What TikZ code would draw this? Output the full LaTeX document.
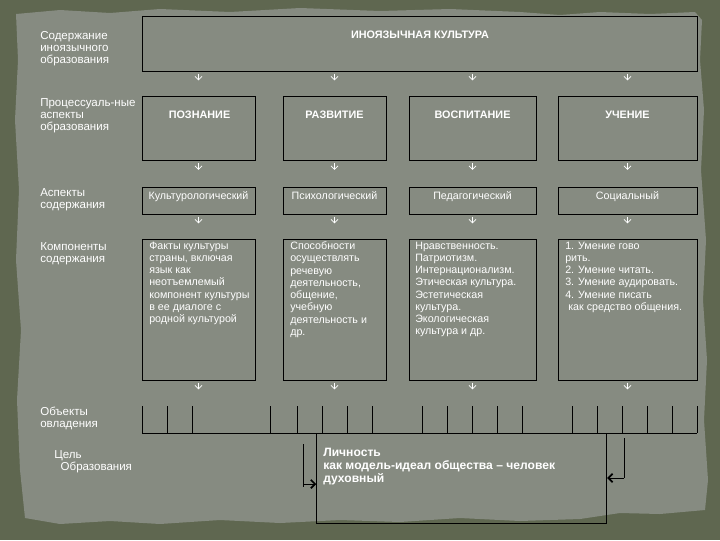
\documentclass[tikz,border=0pt]{standalone}
\usepackage{fontspec}
\setmainfont{Liberation Sans}
\usetikzlibrary{arrows.meta}
\usetikzlibrary{calc}
\usetikzlibrary{positioning}
\definecolor{paper}{RGB}{134,139,129}
\definecolor{edge}{RGB}{95,103,80}

\begin{document}
\begin{tikzpicture}[x=0.025cm, y=-0.025cm,
		box/.style={draw=black, line width=0.6pt, inner sep=0pt},
		head/.style={text=white, font=\bfseries\fontsize{7.7}{9}\selectfont},
		txt/.style={text=white, font=\fontsize{7.6}{8.7}\selectfont, align=left, inner sep=0pt, anchor=north west},
		side/.style={text=white, font=\fontsize{8.2}{8.7}\selectfont, align=left, inner sep=0pt, anchor=north west},
		flow/.style={white, line width=0.5pt, -{Straight Barb[length=2.5pt, width=5pt]}, shorten <=1.5pt},
		goalarr/.style={black, line width=0.6pt, -{Straight Barb[length=3pt, width=6pt, line width=1.2pt]}}]
		% paper sheet
		\useasboundingbox (0,0) rectangle (720,540);
		\fill[edge] (0,0) rectangle (720,540);
		\fill[paper] (16,14) -- (60,10) -- (110,13) -- (160,9) -- (230,12) -- (300,8) -- (380,11) -- (450,9) -- (520,12)
			-- (560,15) -- (600,12) -- (650,14) -- (695,12) -- (702,20) -- (700,60) -- (704,110) -- (701,170) -- (706,240)
			-- (703,300) -- (707,360) -- (704,420) -- (708,480) -- (705,510) -- (660,514) -- (620,513) -- (580,519)
			-- (520,521) -- (460,518) -- (400,522) -- (340,520) -- (280,523) -- (220,520) -- (160,524) -- (110,521)
			-- (60,524) -- (25,518) -- (20,470) -- (17,400) -- (21,330) -- (16,260) -- (19,190) -- (15,120) -- (18,60) -- cycle;

		% row labels
		\node (l1) at (40,31) [side] {Содержание\\иноязычного\\образования};
		\node (l2) at (40,98) [side] {Процессуаль-ные\\аспекты\\образования};
		\node (l3) at (40,188) [side] {Аспекты\\содержания};
		\node (l4) at (40,242) [side] {Компоненты\\содержания};
		\node (l5) at (40,407) [side] {Объекты\\овладения};
		\node (l6) at (54,450) [side] {Цель\\\ \ Образования};

		% top box
		\node (kult) at (419.5,43.5) [box, minimum width=13.875cm, minimum height=1.375cm] {};
		\node (kultt) at (420,35) [head] {ИНОЯЗЫЧНАЯ КУЛЬТУРА};

		% process aspects
		\node (pozn) at (198.5,128.5) [box, minimum width=2.825cm, minimum height=1.6cm] {};
		\node (razv) at (334.5,128.5) [box, minimum width=2.575cm, minimum height=1.6cm] {};
		\node (vosp) at (472.5,128.5) [box, minimum width=3.175cm, minimum height=1.6cm] {};
		\node (uch) at (627.5,128.5) [box, minimum width=3.475cm, minimum height=1.6cm] {};
		\node (poznt) at (199.5,115) [head] {ПОЗНАНИЕ};
		\node (razvt) at (334.5,115) [head] {РАЗВИТИЕ};
		\node (vospt) at (472.5,115) [head] {ВОСПИТАНИЕ};
		\node (ucht) at (627.5,115) [head] {УЧЕНИЕ};

		% aspects of content
		\node (kultur) at (198.5,200.5) [box, minimum width=2.825cm, minimum height=0.675cm] {};
		\node (psych) at (334.5,200.5) [box, minimum width=2.575cm, minimum height=0.675cm] {};
		\node (pedag) at (472.5,200.5) [box, minimum width=3.175cm, minimum height=0.675cm] {};
		\node (soc) at (627.5,200.5) [box, minimum width=3.475cm, minimum height=0.675cm] {};
		\node (kulturt) [txt, anchor=north, below=3.5pt of kultur.north] {Культурологический};
		\node (psycht) [txt, anchor=north, below=3.5pt of psych.north] {Психологический};
		\node (pedagt) [txt, anchor=north, below=3.5pt of pedag.north] {Педагогический};
		\node (soct) [txt, anchor=north, below=3.5pt of soc.north] {Социальный};

		% components of content
		\node (komp1) at (198.5,309.5) [box, minimum width=2.825cm, minimum height=3.525cm] {};
		\node (komp2) at (334.5,309.5) [box, minimum width=2.575cm, minimum height=3.525cm] {};
		\node (komp3) at (472.5,309.5) [box, minimum width=3.175cm, minimum height=3.525cm] {};
		\node (komp4) at (627.5,309.5) [box, minimum width=3.475cm, minimum height=3.525cm] {};
		\node (komp1t) at (149,241.5) [txt] {Факты культуры\\страны, включая\\язык как\\неотъемлемый\\компонент культуры\\в ее диалоге с\\родной культурой};
		\node (komp2t) at (290,241.5) [txt] {Способности\\осуществлять\\речевую\\деятельность,\\общение,\\учебную\\деятельность и\\др.};
		\node (komp3t) at (415,241.5) [txt] {Нравственность.\\Патриотизм.\\Интернационализм.\\Этическая культура.\\Эстетическая\\культура.\\Экологическая\\культура и др.};
		\node (komp4t) at (565,241.5) [txt] {1. Умение гово\\рить.\\2. Умение читать.\\3. Умение аудировать.\\4. Умение писать\\\ как средство общения.};

		% arrows between rows
		\draw[flow] (kult.south -| pozn.north) -- ++(0,9);
		\draw[flow] (kult.south -| razv.north) -- ++(0,9);
		\draw[flow] (kult.south -| vosp.north) -- ++(0,9);
		\draw[flow] (kult.south -| uch.north) -- ++(0,9);
		\draw[flow] (pozn.south) -- ++(0,9);
		\draw[flow] (razv.south) -- ++(0,9);
		\draw[flow] (vosp.south) -- ++(0,9);
		\draw[flow] (uch.south) -- ++(0,9);
		\draw[flow] (kultur.south) -- ++(0,9);
		\draw[flow] (psych.south) -- ++(0,9);
		\draw[flow] (pedag.south) -- ++(0,9);
		\draw[flow] (soc.south) -- ++(0,9);
		\draw[flow] (komp1.south) -- ++(0,9);
		\draw[flow] (komp2.south) -- ++(0,9);
		\draw[flow] (komp3.south) -- ++(0,9);
		\draw[flow] (komp4.south) -- ++(0,9);

		% objects of mastering
		\draw[line width=0.6pt] (142,433) -- (697,433);
		\draw[line width=0.6pt] (142,406) -- (142,433) (167,406) -- (167,433) (192,406) -- (192,433)
			(270,406) -- (270,433) (297,406) -- (297,433) (322,406) -- (322,433) (347,406) -- (347,433) (372,406) -- (372,433)
			(422,406) -- (422,433) (447,406) -- (447,433) (472,406) -- (472,433) (497,406) -- (497,433) (522,406) -- (522,433)
			(572,406) -- (572,433) (597,406) -- (597,433) (622,406) -- (622,433) (647,406) -- (647,433) (672,406) -- (672,433)
			(697,406) -- (697,433);

		% goal
		\node (goal) at (461.7,478) [box, minimum width=7.25cm, minimum height=2.25cm] {};
		\node (goalt) at (323,448) [txt, font=\bfseries\fontsize{8.6}{9.2}\selectfont] {Личность\\как модель-идеал общества -- человек\\духовный};
		\coordinate (ltop) at (303,444);
		\coordinate (lbot) at (303,487);
		\coordinate (lbend) at (303,484);
		\coordinate (rtop) at (624,438);
		\coordinate (rbend) at (624,478);
		\draw[line width=0.6pt] (ltop) -- (lbot);
		\draw[goalarr] (lbend) -- (lbend -| goal.west);
		\draw[line width=0.6pt] (rtop) -- (rbend);
		\draw[goalarr] (rbend) -- (rbend -| goal.east);
	\end{tikzpicture}
\end{document}
